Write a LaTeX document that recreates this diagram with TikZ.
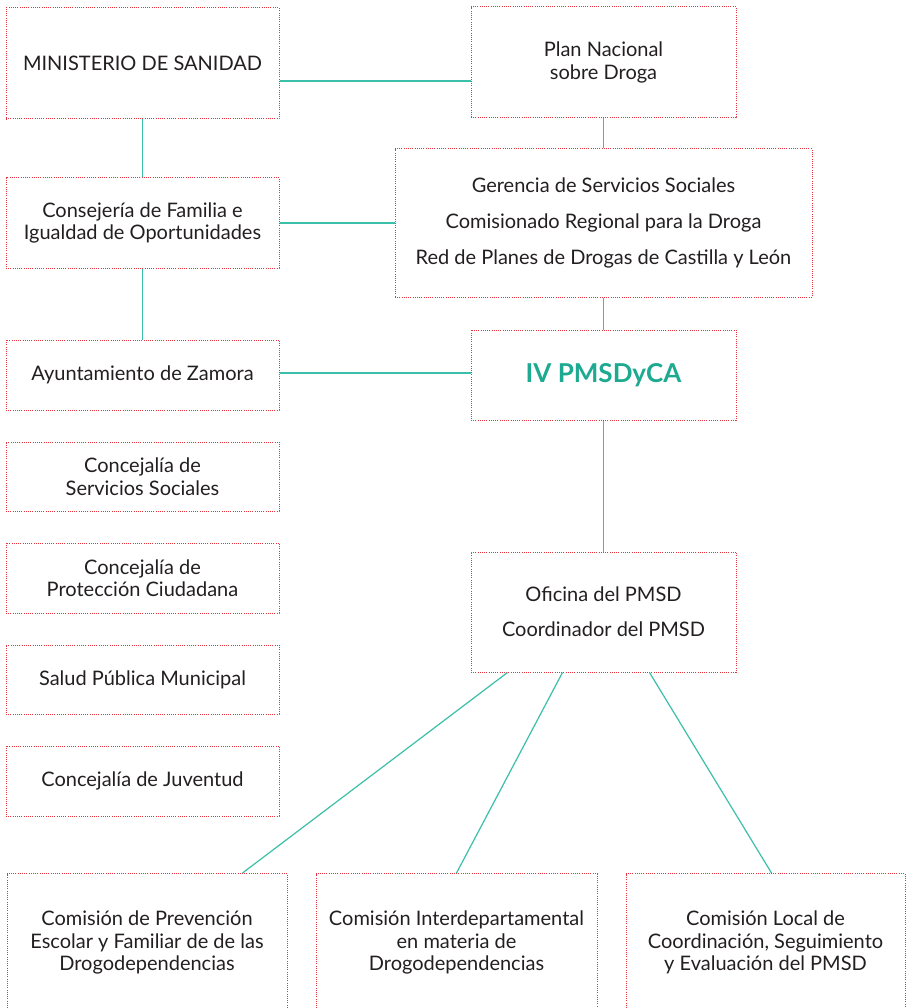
\documentclass[tikz,border=0pt]{standalone}
\usepackage{fontspec}
\setmainfont{Lato}
\usetikzlibrary{calc}
\definecolor{boxred}{HTML}{E8343F}
\definecolor{lineteal}{HTML}{3BBFA8}
\definecolor{titleteal}{HTML}{1DAA91}
\definecolor{textgray}{HTML}{231F20}
\tikzset{
  orgbox/.style={draw=boxred, line width=1pt, dash pattern=on 1pt off 1.2pt,
    inner sep=0pt, align=center, text=textgray,
    font=\fontsize{20}{22.5}\selectfont},
  conn/.style={draw=lineteal, line width=1.2pt},
}
\begin{document}
\begin{tikzpicture}[x=1pt,y=-1pt]
\useasboundingbox (0,0) rectangle (907,1008);
\node[orgbox, minimum width=273, minimum height=111] (min) at (142.5,63.5) {MINISTERIO DE SANIDAD};
\node[orgbox, minimum width=265, minimum height=111] (plan) at (603.5,62.5) {Plan Nacional\\sobre Droga};
\node[orgbox, minimum width=417, minimum height=148] (ger) at (603.5,223) {Gerencia de Servicios Sociales\\[13.5pt]Comisionado Regional para la Droga\\[13.5pt]Red de Planes de Drogas de Castilla y León};
\node[orgbox, minimum width=273, minimum height=90] (cons) at (142.5,223) {Consejería de Familia e\\Igualdad de Oportunidades};
\node[orgbox, minimum width=273, minimum height=70] (ayu) at (142.5,375) {Ayuntamiento de Zamora};
\node[orgbox, minimum width=265, minimum height=90, text=titleteal, font=\fontsize{26}{30}\selectfont\bfseries] (iv) at (603.5,375) {IV PMSDyCA};
\node[orgbox, minimum width=273, minimum height=69] (css) at (142.5,476.5) {Concejalía de\\Servicios Sociales};
\node[orgbox, minimum width=273, minimum height=70] (cpc) at (142.5,578) {Concejalía de\\Protección Ciudadana};
\node[orgbox, minimum width=273, minimum height=69] (sal) at (142.5,679.5) {Salud Pública Municipal};
\node[orgbox, minimum width=273, minimum height=70] (juv) at (142.5,781) {Concejalía de Juventud};
\node[orgbox, minimum width=265, minimum height=120] (ofi) at (603.5,612) {Oficina del PMSD\\[12.5pt]Coordinador del PMSD};
\node[orgbox, minimum width=280, minimum height=138, anchor=north] (b1) at (147,873) {Comisión de Prevención\\Escolar y Familiar de de las\\Drogodependencias};
\node[orgbox, minimum width=281, minimum height=138, anchor=north] (b2) at (456.5,873) {Comisión Interdepartamental\\en materia de\\Drogodependencias};
\node[orgbox, minimum width=279, minimum height=138, anchor=north] (b3) at (765.5,873) {Comisión Local de\\Coordinación, Seguimiento\\y Evaluación del PMSD};
% connectors
\draw[conn] (min.east |- 0,81) -- (plan.west |- 0,81);
\draw[conn] (min.south) -- (cons.north);
\draw[conn] (cons.east) -- (ger.west |- cons.east);
\draw[conn] (cons.south) -- (ayu.north);
\draw[conn] (ayu.east |- 0,373) -- (iv.west |- 0,373);
\draw[conn] (plan.south) -- (ger.north);
\draw[conn] (ger.south) -- (iv.north);
\draw[conn] (iv.south) -- (ofi.north);
\draw[conn] ($(ofi.south west)+(37,0)$) -- ($(b1.north west)+(236,0)$);
\draw[conn] ($(ofi.south west)+(92,0)$) -- (b2.north);
\draw[conn] ($(ofi.south west)+(179,0)$) -- ($(b3.north west)+(146,0)$);
\end{tikzpicture}
\end{document}
